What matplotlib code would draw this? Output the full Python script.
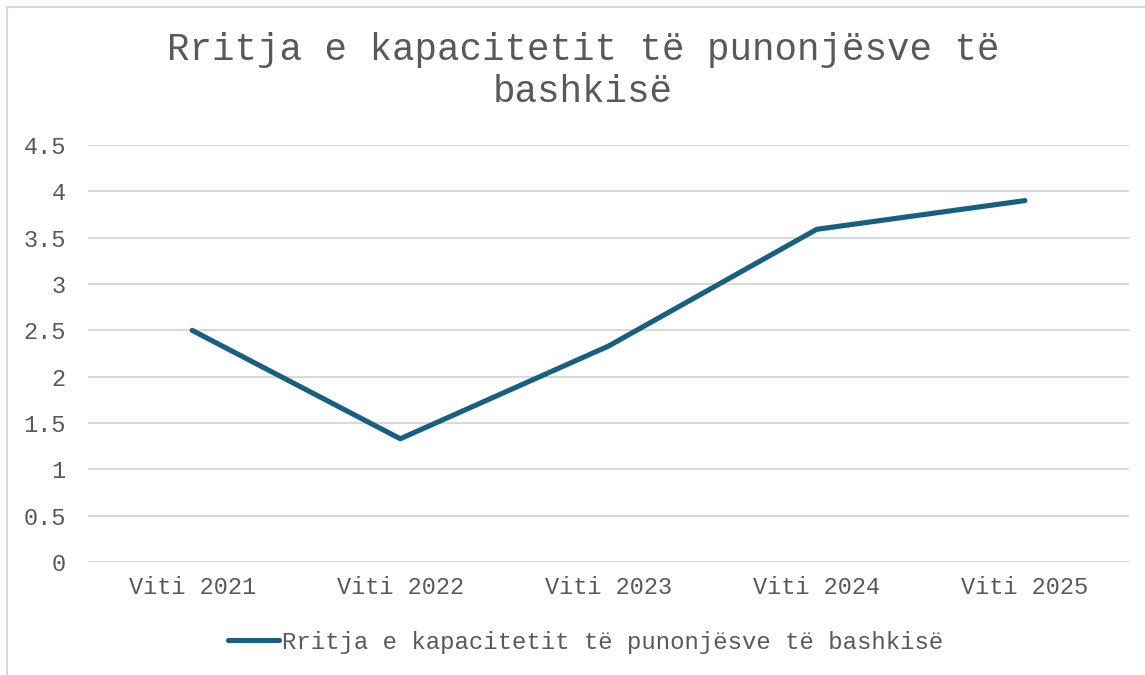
import numpy as np
import matplotlib.pyplot as plt
from matplotlib.lines import Line2D

plt.rcParams['font.family'] = ['Liberation Mono', 'DejaVu Sans Mono']

years = ["Viti 2021", "Viti 2022", "Viti 2023", "Viti 2024", "Viti 2025"]
values = [2.5, 1.33, 2.33, 3.59, 3.9]
series_name = "Rritja e kapacitetit të punonjësve të bashkisë"
title = "Rritja e kapacitetit të punonjësve të\nbashkisë"

text_color = "#595959"
line_color = "#1A5E80"
grid_color = "#D9D9D9"

W, H = 1145, 675
fig = plt.figure(figsize=(W / 100, H / 100), dpi=100)
ax = fig.add_axes([88 / W, 1 - 562 / H, (1129 - 88) / W, (562 - 145) / H])

x = np.arange(len(years))
ax.plot(x, values, color=line_color, lw=3.7, solid_capstyle="round",
        solid_joinstyle="round", label=series_name)

ax.set_xlim(-0.5, len(years) - 0.5)
ax.set_ylim(0, 4.5)
ax.set_yticks(np.arange(0, 4.51, 0.5))
ax.set_yticklabels(["0", "0.5", "1", "1.5", "2", "2.5", "3", "3.5", "4", "4.5"])
ax.set_xticks(x)
ax.set_xticklabels(years)
ax.grid(axis="y", color=grid_color, lw=1.5)
ax.set_axisbelow(True)
for s in ax.spines.values():
    s.set_visible(False)
ax.tick_params(axis="both", length=0, labelsize=17, colors=text_color)
ax.tick_params(axis="y", pad=16)
ax.tick_params(axis="x", pad=10)

fig.text(583 / W, 1 - 71 / H, title, ha="center", va="center",
         fontsize=27, color=text_color, linespacing=1.25)

leg = fig.legend(loc="center", bbox_to_anchor=(586 / W, 1 - 642 / H),
                 frameon=False, fontsize=17.3, handlelength=2.1,
                 handletextpad=0.15, labelcolor=text_color)

# chart border (only left and top edges are visible)
fig.add_artist(Line2D([7 / W, 7 / W], [0, 1 - 7 / H], color=grid_color, lw=1.5))
fig.add_artist(Line2D([7 / W, 1], [1 - 7 / H, 1 - 7 / H], color=grid_color, lw=1.5))

fig.savefig("out.png", dpi=100)
